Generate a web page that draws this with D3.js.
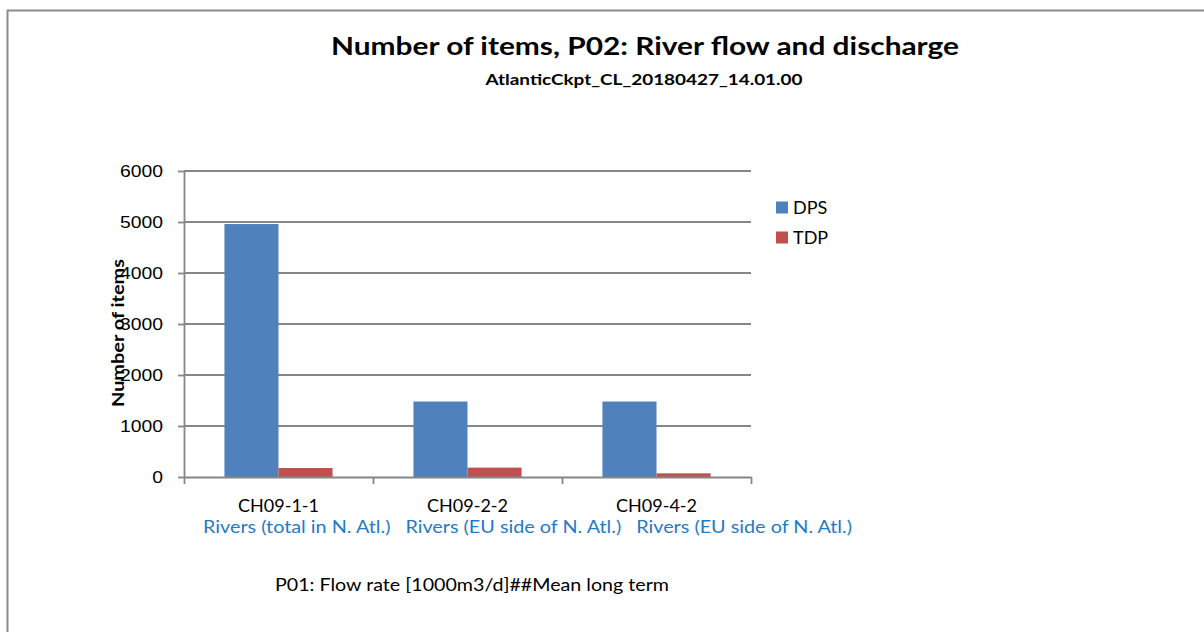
<!DOCTYPE html>
<html>
<head>
<meta charset="utf-8">
<script src="https://cdn.jsdelivr.net/npm/d3@7"></script>
<style>
  body { margin: 0; background: #fff; }
  text { font-family: Lato, "Open Sans", sans-serif; }
  .tick text { font-family: "Liberation Sans", Arial, sans-serif; }
</style>
</head>
<body>
<script>
// chart data
var categories = ["CH09-1-1", "CH09-2-2", "CH09-4-2"];
var subLabels = ["Rivers (total in N. Atl.)", "Rivers (EU side of N. Atl.)", "Rivers (EU side of N. Atl.)"];
var seriesNames = ["DPS", "TDP"];
var dpsValues = [4960, 1480, 1480];
var tdpValues = [176, 184, 72];
var yTicks = [0, 1000, 2000, 3000, 4000, 5000, 6000];
var colors = ["#4F81BD", "#C0504D"];

var W = 1204, H = 632;
var plot = {left: 184, right: 751, top: 171, bottom: 477};
var gridColor = "#868686";

var svg = d3.select("body").append("svg")
    .attr("width", W)
    .attr("height", H);

// outer frame (only top/left edges fall inside the window)
svg.append("rect")
    .attr("x", 7.5).attr("y", 10.5)
    .attr("width", W + 20).attr("height", H + 20)
    .attr("fill", "none")
    .attr("stroke", "#8c8c8c")
    .attr("stroke-width", 2);

var xPos = d3.scaleLinear()
    .domain([0, categories.length])
    .range([plot.left, plot.right]);
var step = xPos(1) - xPos(0);
var barW = step * 0.286;

var y = d3.scaleLinear()
    .domain([0, 6000])
    .range([plot.bottom, plot.top]);

// gridlines
svg.append("g")
    .selectAll("line")
    .data(yTicks.filter(d => d > 0))
    .enter().append("line")
    .attr("x1", plot.left).attr("x2", plot.right)
    .attr("y1", d => y(d)).attr("y2", d => y(d))
    .attr("stroke", gridColor)
    .attr("stroke-width", 1.8);

// bars
var data = categories.map((c, i) => ({i: i, vals: [dpsValues[i], tdpValues[i]]}));
svg.append("g").selectAll("g")
    .data(data)
    .enter().append("g")
    .selectAll("rect")
    .data(d => d.vals.map((v, j) => ({i: d.i, v: v, j: j})))
    .enter().append("rect")
    .attr("x", d => xPos(d.i + 0.5) - barW + d.j * barW)
    .attr("y", d => y(d.v))
    .attr("width", barW)
    .attr("height", d => y(0) - y(d.v))
    .attr("fill", d => colors[d.j]);

// y axis
var yAxis = svg.append("g")
    .attr("transform", "translate(" + plot.left + ",0)")
    .call(d3.axisLeft(y).tickValues(yTicks).tickFormat(d3.format("d")).tickSize(6).tickSizeOuter(0));
yAxis.select(".domain").attr("stroke", gridColor).attr("stroke-width", 1.8);
yAxis.selectAll(".tick line").attr("stroke", gridColor).attr("stroke-width", 1.8);
yAxis.selectAll(".tick text")
    .attr("x", -21)
    .attr("font-size", 17)
    .attr("fill", "#000")
    .attr("textLength", d => String(d).length * 10.75)
    .attr("lengthAdjust", "spacingAndGlyphs");

// x axis
var xAxis = svg.append("g")
    .attr("transform", "translate(0," + plot.bottom + ")")
    .call(d3.axisBottom(xPos).tickValues(d3.range(categories.length + 1)).tickSize(7).tickSizeOuter(0).tickFormat(""));
xAxis.select(".domain").attr("stroke", gridColor).attr("stroke-width", 1.8);
xAxis.selectAll(".tick line").attr("stroke", gridColor).attr("stroke-width", 1.8);

// category labels
svg.append("g").selectAll("text")
    .data(categories)
    .enter().append("text")
    .attr("x", (d, i) => xPos(i + 0.5))
    .attr("y", 511.5)
    .attr("text-anchor", "middle")
    .attr("font-size", 18)
    .attr("fill", "#000")
    .attr("textLength", 81)
    .attr("lengthAdjust", "spacingAndGlyphs")
    .text(d => d);

// second label line, laid out one after another between x=203 and x=852
var subX = 203, subEnd = 852, subGap = 15;
var subs = svg.append("g").selectAll("text")
    .data(subLabels)
    .enter().append("text")
    .attr("y", 533)
    .attr("font-size", 18)
    .attr("fill", "#1F7BC6")
    .text(d => d);
var natural = subs.nodes().map(n => n.getComputedTextLength());
var k = (subEnd - subX - subGap * (subLabels.length - 1)) / d3.sum(natural);
var cursor = subX;
subs.each(function(d, i) {
    var w = natural[i] * k;
    d3.select(this)
        .attr("x", cursor)
        .attr("textLength", w)
        .attr("lengthAdjust", "spacingAndGlyphs");
    cursor += w + subGap;
});

// titles
svg.append("text")
    .attr("x", 645).attr("y", 55)
    .attr("text-anchor", "middle")
    .attr("font-size", 25)
    .attr("font-weight", "bold")
    .attr("textLength", 628)
    .attr("lengthAdjust", "spacingAndGlyphs")
    .text("Number of items, P02: River flow and discharge");

svg.append("text")
    .attr("x", 644).attr("y", 84.5)
    .attr("text-anchor", "middle")
    .attr("font-size", 14.5)
    .attr("font-weight", "bold")
    .attr("textLength", 317)
    .attr("lengthAdjust", "spacingAndGlyphs")
    .text("AtlanticCkpt_CL_20180427_14.01.00");

// y axis title
svg.append("text")
    .attr("transform", "translate(124,333) rotate(-90)")
    .attr("text-anchor", "middle")
    .attr("font-size", 17)
    .attr("font-weight", "bold")
    .attr("textLength", 148)
    .attr("lengthAdjust", "spacingAndGlyphs")
    .text("Number of items");

// legend
var legend = svg.append("g").selectAll("g")
    .data(seriesNames)
    .enter().append("g")
    .attr("transform", (d, i) => "translate(776," + (201.5 + i * 30) + ")");
legend.append("rect")
    .attr("width", 12).attr("height", 12)
    .attr("fill", (d, i) => colors[i]);
legend.append("text")
    .attr("x", 17).attr("y", 12)
    .attr("font-size", 18)
    .text(d => d);

// footer
svg.append("text")
    .attr("x", 472).attr("y", 591)
    .attr("text-anchor", "middle")
    .attr("font-size", 18)
    .attr("textLength", 394)
    .attr("lengthAdjust", "spacingAndGlyphs")
    .text("P01: Flow rate [1000m3/d]##Mean long term");
</script>
</body>
</html>
